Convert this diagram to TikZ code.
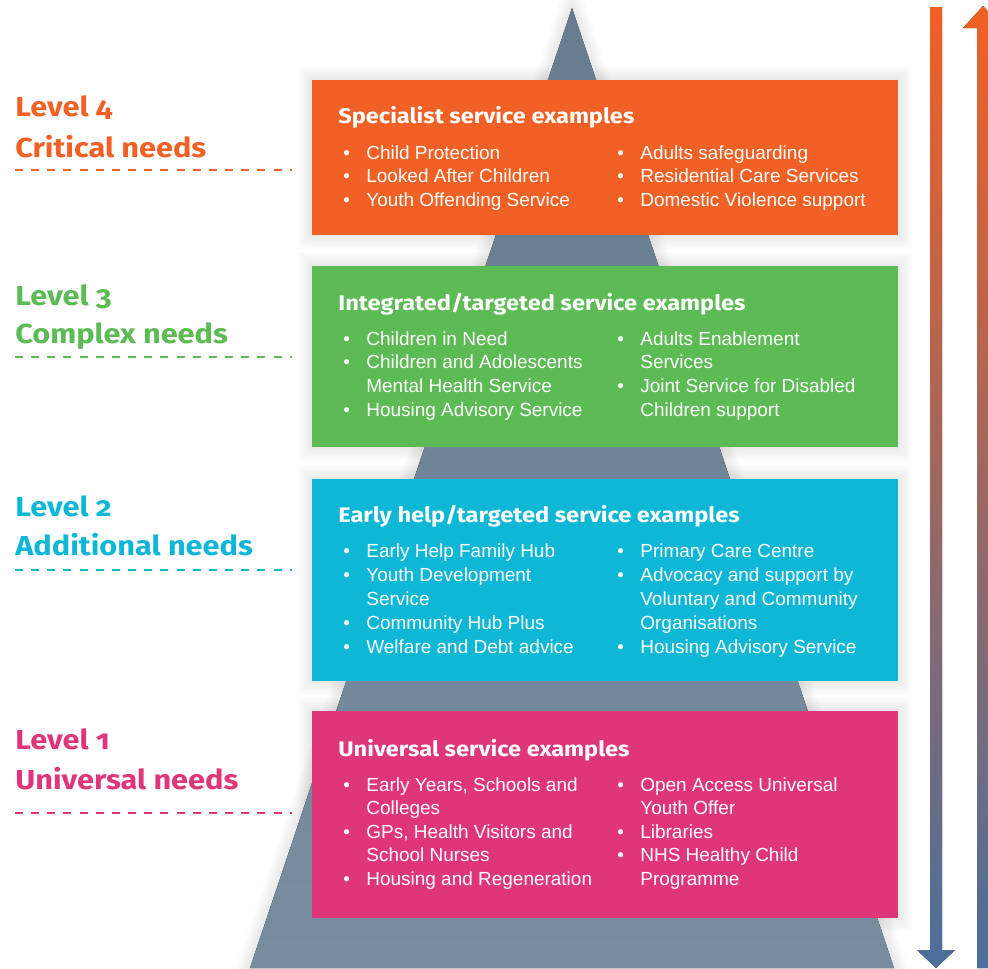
\documentclass[tikz,border=0pt]{standalone}
\usepackage{fontspec}
\setmainfont{Liberation Sans}
\newfontfamily\headfont[Numbers=OldStyle,FakeStretch=1.12]{Fira Sans}

\definecolor{critorange}{HTML}{F16024}
\definecolor{complexgreen}{HTML}{5DBB55}
\definecolor{addcyan}{HTML}{0FB7D7}
\definecolor{univpink}{HTML}{DF3679}
\definecolor{pyrtop}{RGB}{104,124,143}
\definecolor{pyrbottom}{RGB}{121,141,161}
\definecolor{arrowblue}{HTML}{4A6F9C}

\newcommand{\bul}{\makebox[13.1pt][l]{\textbullet}}
\newcommand{\cnt}{\hspace*{13.1pt}}
\newcommand{\boxhalo}[4]{%
  \foreach \s in {2,4,...,14}
    \fill[black, opacity=0.012] (#1-\s,#2-\s) rectangle (#3+\s,#4+\s);}

\begin{document}
\begin{tikzpicture}[x=0.02cm, y=-0.02cm,
    levellabel/.style={anchor=base west, inner sep=0pt,
      font=\headfont\bfseries\fontsize{15.6}{18}\selectfont},
    levelrule/.style={line width=0.7pt, dash pattern=on 4.5pt off 4.7pt},
    boxtitle/.style={anchor=base west, inner sep=0pt, text=white,
      font=\headfont\bfseries\fontsize{12}{14}\selectfont},
    itemline/.style={anchor=base west, inner sep=0pt, text=white,
      font=\fontsize{10.8}{13}\selectfont},
    pyramid/.style={top color=pyrtop, bottom color=pyrbottom},
    needarrow/.style={top color=critorange, bottom color=arrowblue}]

    \useasboundingbox (0,0) rectangle (988,968);
    \clip (0,0) rectangle (988,968);

    % soft shadows
    \foreach \w in {4,8,...,28}
        \draw[black, opacity=0.012, line width=0.02cm*\w, line join=round]
            (572,8) -- (250,968) -- (894,968) -- cycle;
    \boxhalo{312}{80}{898}{235}
    \boxhalo{312}{266}{898}{447}
    \boxhalo{312}{479}{898}{681}
    \boxhalo{312}{711}{898}{918}

    % pyramid
    \fill[pyramid] (572,8) -- (250,968) -- (894,968) -- cycle;

    % boxes
    \fill[critorange] (312,80) rectangle (898,235);
    \fill[complexgreen] (312,266) rectangle (898,447);
    \fill[addcyan] (312,479) rectangle (898,681);
    \fill[univpink] (312,711) rectangle (898,918);

    % arrows
    \fill[needarrow] (930,7) -- (942,7) -- (942,950) -- (955,950) -- (936,968)
        -- (917,950) -- (930,950) -- cycle;
    \fill[needarrow] (977,968) -- (977,28) -- (963,28) -- (983,6) -- (1003,28)
        -- (989,28) -- (989,968) -- cycle;

    % level 4
    \node[levellabel, text=critorange] (lvl4) at (15,116) {Level 4};
    \node[levellabel, text=critorange] (need4) at (15,157) {Critical needs};
    \draw[levelrule, critorange] (15,170) -- (292,170);
    \node[boxtitle] (title4) at (338,123) {Specialist service examples};
    \foreach \txt [count=\i] in {{\bul Child Protection},{\bul Looked After Children},
        {\bul Youth Offending Service}}
        \node[itemline] (specA\i) at (343,{159+23.8*(\i-1)}) {\txt};
    \foreach \txt [count=\i] in {{\bul Adults safeguarding},{\bul Residential Care Services},
        {\bul Domestic Violence support}}
        \node[itemline] (specB\i) at (617,{159+23.8*(\i-1)}) {\txt};

    % level 3
    \node[levellabel, text=complexgreen] (lvl3) at (15,305) {Level 3};
    \node[levellabel, text=complexgreen] (need3) at (15,343) {Complex needs};
    \draw[levelrule, complexgreen] (15,357) -- (292,357);
    \node[boxtitle] (title3) at (338,310) {Integrated/targeted service examples};
    \foreach \txt [count=\i] in {{\bul Children in Need},{\bul Children and Adolescents},
        {\cnt Mental Health Service},{\bul Housing Advisory Service}}
        \node[itemline] (intA\i) at (343,{345+23.9*(\i-1)}) {\txt};
    \foreach \txt [count=\i] in {{\bul Adults Enablement},{\cnt Services},
        {\bul Joint Service for Disabled},{\cnt Children support}}
        \node[itemline] (intB\i) at (617,{345+23.9*(\i-1)}) {\txt};

    % level 2
    \node[levellabel, text=addcyan] (lvl2) at (15,516) {Level 2};
    \node[levellabel, text=addcyan] (need2) at (15,555) {Additional needs};
    \draw[levelrule, addcyan] (15,570) -- (292,570);
    \node[boxtitle] (title2) at (338,522) {Early help/targeted service examples};
    \foreach \txt [count=\i] in {{\bul Early Help Family Hub},{\bul Youth Development},
        {\cnt Service},{\bul Community Hub Plus},{\bul Welfare and Debt advice}}
        \node[itemline] (earlyA\i) at (343,{557+24*(\i-1)}) {\txt};
    \foreach \txt [count=\i] in {{\bul Primary Care Centre},{\bul Advocacy and support by},
        {\cnt Voluntary and Community},{\cnt Organisations},{\bul Housing Advisory Service}}
        \node[itemline] (earlyB\i) at (617,{557+24*(\i-1)}) {\txt};

    % level 1
    \node[levellabel, text=univpink] (lvl1) at (15,749) {Level 1};
    \node[levellabel, text=univpink] (need1) at (15,789) {Universal needs};
    \draw[levelrule, univpink] (15,813) -- (292,813);
    \node[boxtitle] (title1) at (338,756) {Universal service examples};
    \foreach \txt [count=\i] in {{\bul Early Years, Schools and},{\cnt Colleges},
        {\bul GPs, Health Visitors and},{\cnt School Nurses},{\bul Housing and Regeneration}}
        \node[itemline] (univA\i) at (343,{791+23.6*(\i-1)}) {\txt};
    \foreach \txt [count=\i] in {{\bul Open Access Universal},{\cnt Youth Offer},
        {\bul Libraries},{\bul NHS Healthy Child},{\cnt Programme}}
        \node[itemline] (univB\i) at (617,{791+23.6*(\i-1)}) {\txt};
\end{tikzpicture}
\end{document}
